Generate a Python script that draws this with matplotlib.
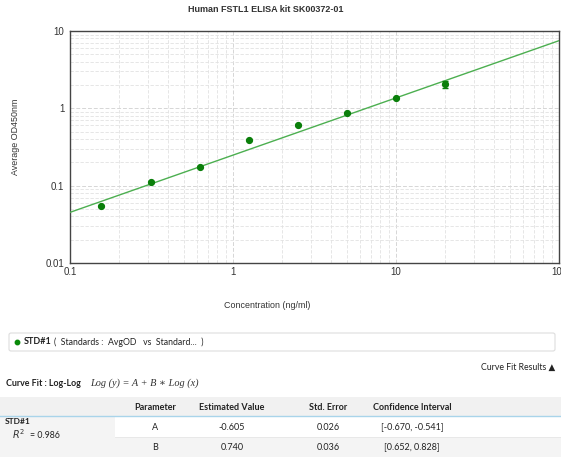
import numpy as np
import matplotlib
matplotlib.use("Agg")
import matplotlib.pyplot as plt
from matplotlib.patches import Rectangle, FancyBboxPatch

# ---- data ----
conc = [0.156, 0.3125, 0.625, 1.25, 2.5, 5, 10, 20]
avg_od = [0.055, 0.113, 0.176, 0.39, 0.61, 0.87, 1.35, 2.05]
od_err = [0.0, 0.0, 0.0, 0.0, 0.0, 0.0, 0.0, 0.21]
fit_A = -0.605
fit_B = 0.740
r2 = 0.986
x_ticks = [0.1, 1, 10, 100]
x_tick_labels = ["0.1", "1", "10", "100"]
y_ticks = [0.01, 0.1, 1, 10]
y_tick_labels = ["0.01", "0.1", "1", "10"]
table_headers = ["Parameter", "Estimated Value", "Std. Error", "Confidence Interval"]
table_params = ["A", "B"]
table_est = ["-0.605", "0.740"]
table_se = ["0.026", "0.036"]
table_ci = ["[-0.670, -0.541]", "[0.652, 0.828]"]

W, H = 561, 457
fig = plt.figure(figsize=(W / 100, H / 100), dpi=100)
fig.patch.set_facecolor("white")

def fx(px):
    return px / W

def fy(py):
    return 1 - py / H

ax = fig.add_axes([fx(70), fy(263), (559 - 70) / W, (263 - 31) / H])
ax.set_xscale("log")
ax.set_yscale("log")
ax.set_xlim(0.1, 100)
ax.set_ylim(0.01, 10)

xs = np.logspace(-1, 2, 200)
ax.plot(xs, 10 ** (fit_A + fit_B * np.log10(xs)), color="#4caf50", lw=1.0, zorder=3)
ax.errorbar(conc, avg_od, yerr=od_err, fmt="o", color="#0a7f0a", ms=4.2,
            elinewidth=1.0, capsize=2.5, capthick=1.0, zorder=4)

ax.grid(True, which="major", color="#d6d6d6", ls=(0, (4, 2)), lw=0.7)
ax.grid(True, which="minor", color="#e2e2e2", ls=(0, (4, 2)), lw=0.6)
ax.set_axisbelow(True)
for s in ax.spines.values():
    s.set_color("#444444")
    s.set_linewidth(1.0)
ax.tick_params(which="both", length=0)
ax.set_xticks(x_ticks)
ax.set_xticklabels(x_tick_labels, fontsize=7, family="Liberation Sans", color="#333333")
ax.set_yticks(y_ticks)
ax.set_yticklabels(y_tick_labels, fontsize=7, family="Liberation Sans", color="#333333")
ax.tick_params(axis="x", pad=3)
ax.tick_params(axis="y", pad=4)
ax.minorticks_on()
ax.tick_params(which="minor", length=0, labelleft=False, labelbottom=False)

fig.text(fx(266), fy(10), "Human FSTL1 ELISA kit SK00372-01", ha="center", va="center",
         fontsize=6.5, fontweight="bold", family="Liberation Sans", color="#333333")
fig.text(fx(16), fy(137), "Average OD450nm", ha="center", va="center", rotation=90,
         fontsize=6.4, family="Liberation Sans", color="#333333")
fig.text(fx(267), fy(305), "Concentration (ng/ml)", ha="center", va="center",
         fontsize=6.4, family="Liberation Sans", color="#333333")

# legend box
lb = FancyBboxPatch((fx(9), fy(351)), fx(546), (351 - 333) / H,
                    boxstyle="round,pad=0,rounding_size=0.004", transform=fig.transFigure,
                    facecolor="white", edgecolor="#dddddd", lw=0.8)
fig.patches.append(lb)
fig.lines.append(plt.Line2D([fx(17)], [fy(342)], transform=fig.transFigure, marker="o",
                            ms=3.2, color="#0a8a0a", ls="none"))
fig.text(fx(24), fy(342), "STD#1", ha="left", va="center", fontsize=6.5,
         fontweight="bold", family="Lato", color="#222222")
fig.text(fx(54), fy(342), "(  Standards :  AvgOD   vs  Standard...  )", ha="left", va="center",
         fontsize=6.3, family="Lato", color="#222222")

fig.text(fx(555), fy(367), "Curve Fit Results \u25B2", ha="right", va="center", fontsize=6.3,
         family=["Lato", "DejaVu Sans"], color="#222222")
fig.text(fx(6), fy(383), "Curve Fit : Log-Log", ha="left", va="center", fontsize=6.4,
         fontweight="bold", family="Lato", color="#222222")
fig.text(fx(90), fy(383), "Log (y) = A + B \u2217 Log (x)", ha="left", va="center", fontsize=7.4,
         style="italic", family=["Liberation Serif", "DejaVu Serif"], color="#333333")

# table
fig.patches.append(Rectangle((0, fy(416)), 1, (416 - 397) / H, transform=fig.transFigure,
                             facecolor="#f1f1f1", edgecolor="none"))
fig.lines.append(plt.Line2D([0, 1], [fy(416), fy(416)], transform=fig.transFigure,
                            color="#a9d4ea", lw=1.0))
fig.patches.append(Rectangle((0, fy(457)), fx(115), (457 - 417) / H, transform=fig.transFigure,
                             facecolor="#f4f4f4", edgecolor="none"))
fig.patches.append(Rectangle((fx(115), fy(457)), 1 - fx(115), (457 - 437) / H,
                             transform=fig.transFigure, facecolor="#f4f4f4", edgecolor="none"))
fig.lines.append(plt.Line2D([fx(115), 1], [fy(437), fy(437)], transform=fig.transFigure,
                            color="#e6e6e6", lw=0.6))

col_x = [155, 232, 328, 412]
for cx, h in zip(col_x, table_headers):
    fig.text(fx(cx), fy(407), h, ha="center", va="center", fontsize=6.5, fontweight="bold",
             family="Lato", color="#222222")
row_y = [427, 447]
for i, ry in enumerate(row_y):
    for cx, val in zip(col_x, [table_params[i], table_est[i], table_se[i], table_ci[i]]):
        fig.text(fx(cx), fy(ry), val, ha="center", va="center", fontsize=6.5,
                 family="Lato", color="#222222")

fig.text(fx(5), fy(422), "STD#1", ha="left", va="center", fontsize=6, fontweight="bold",
         family="Lato", color="#222222")
fig.text(fx(12), fy(434), r"$R^2$", ha="left", va="center", fontsize=7, color="#333333",
         family="DejaVu Serif")
fig.text(fx(30), fy(435), "= " + f"{r2:.3f}", ha="left", va="center", fontsize=6.3,
         family="Lato", color="#222222")

fig.savefig("out.png", dpi=100, facecolor="white")
